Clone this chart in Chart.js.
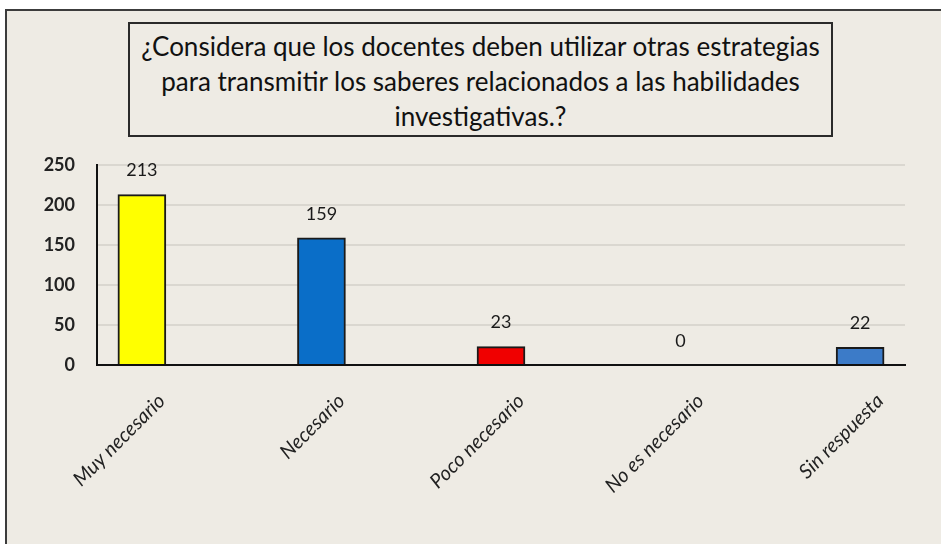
<!DOCTYPE html>
<html>
<head>
<meta charset="utf-8">
<script src="https://cdn.jsdelivr.net/npm/chart.js@4.4.0/dist/chart.umd.min.js"></script>
<style>
  html, body { margin: 0; padding: 0; background: #ffffff; overflow: hidden; }
  #frame {
    position: absolute; left: 5px; top: 9px; width: 960px; height: 560px;
    border: 2px solid #3c3c3c; background: #EEEBE4;
  }
  #wrap { position: absolute; left: 0; top: 0; width: 941px; height: 544px; }
  #titleBox {
    position: absolute; left: 128px; top: 22px; width: 701px; height: 111px;
    border: 2px solid #2a2a2a; background: #EEEBE4;
    font-family: Lato, "Noto Sans", sans-serif; font-size: 26px; line-height: 35px;
    color: #111111; text-align: center; padding-top: 5px; box-sizing: border-box;
    height: 115px; width: 705px; white-space: nowrap;
  }
</style>
</head>
<body>
<div id="frame"></div>
<div id="wrap"><canvas id="chart" width="941" height="544"></canvas></div>
<div id="titleBox">¿Considera que los docentes deben utilizar otras estrategias<br>para transmitir los saberes relacionados a las habilidades<br>investigativas.?</div>
<script>
const categories = ['Muy necesario', 'Necesario', 'Poco necesario', 'No es necesario', 'Sin respuesta'];
const values = [213, 159, 23, 0, 22];
const barColors = ['#FFFF00', '#0A6EC8', '#F00000', '#2F6EC0', '#3C7BC8'];
const yTicks = [0, 50, 100, 150, 200, 250];

// draw the value above each bar
const valueLabels = {
    id: 'valueLabels',
    afterDatasetsDraw(chart) {
        const ctx = chart.ctx;
        const meta = chart.getDatasetMeta(0);
        ctx.save();
        ctx.font = '18px Lato, "Noto Sans", sans-serif';
        ctx.fillStyle = '#1a1a1a';
        ctx.textAlign = 'center';
        ctx.textBaseline = 'middle';
        meta.data.forEach((bar, i) => {
            ctx.fillText(String(values[i]), bar.x, bar.y - 24);
        });
        ctx.restore();
    }
};

const ctx = document.getElementById('chart').getContext('2d');
new Chart(ctx, {
    type: 'bar',
    data: {
        datasets: [{
            data: values.map((v, i) => ({ x: i, y: v })),
            backgroundColor: barColors,
            borderColor: '#1a1a1a',
            borderWidth: 2,
            borderSkipped: 'bottom',
            barThickness: 48
        }]
    },
    options: {
        responsive: false,
        animation: false,
        layout: { padding: { top: 165, right: 36, bottom: 0, left: 0 } },
        plugins: { legend: { display: false }, tooltip: { enabled: false } },
        scales: {
            x: {
                type: 'linear',
                offset: false,
                min: -0.25,
                max: 4.25,
                afterBuildTicks: axis => { axis.ticks = categories.map((c, i) => ({ value: i })); },
                afterFit: scale => { scale.height = 179; scale.paddingLeft = 0; scale.paddingRight = 0; },
                grid: { display: false, drawTicks: false },
                border: { display: true, color: '#111111', width: 2 },
                ticks: {
                    autoSkip: false,
                    maxRotation: 45,
                    minRotation: 45,
                    padding: 24,
                    labelOffset: 20,
                    color: '#222222',
                    font: { family: 'Lato, "Noto Sans", sans-serif', size: 20, style: 'italic' },
                    callback: v => categories[v]
                }
            },
            y: {
                min: 0,
                max: 250,
                afterBuildTicks: axis => { axis.ticks = yTicks.map(v => ({ value: v })); },
                afterFit: scale => { scale.width = 97; scale.paddingTop = 0; scale.paddingBottom = 0; },
                grid: { color: '#DAD7D0', lineWidth: 2, drawTicks: false },
                border: { display: true, color: '#111111', width: 2 },
                ticks: {
                    padding: 22,
                    color: '#222222',
                    font: { family: 'Lato, "Noto Sans", sans-serif', size: 18, weight: 'bold' }
                }
            }
        }
    },
    plugins: [valueLabels]
});
</script>
</body>
</html>
